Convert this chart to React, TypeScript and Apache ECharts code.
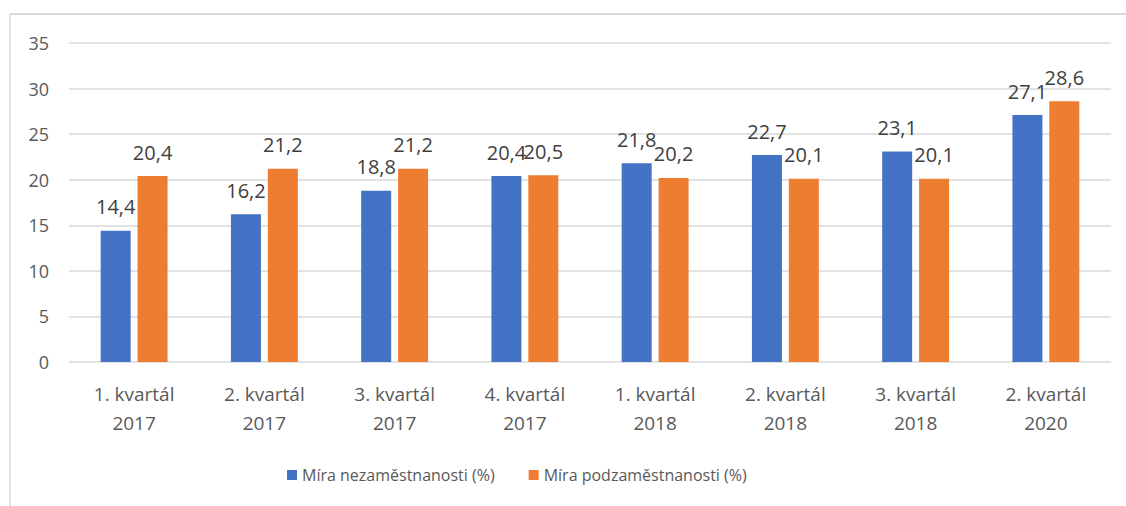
import React, { useEffect, useRef } from "react";
import * as echarts from "echarts";

const categories = [
  "1. kvartál\n2017",
  "2. kvartál\n2017",
  "3. kvartál\n2017",
  "4. kvartál\n2017",
  "1. kvartál\n2018",
  "2. kvartál\n2018",
  "3. kvartál\n2018",
  "2. kvartál\n2020",
];
const unemployment = [14.4, 16.2, 18.8, 20.4, 21.8, 22.7, 23.1, 27.1];
const underemployment = [20.4, 21.2, 21.2, 20.5, 20.2, 20.1, 20.1, 28.6];
const seriesNames = ["Míra nezaměstnanosti (%)", "Míra podzaměstnanosti (%)"];

const FONT = "'Open Sans', 'Noto Sans', sans-serif";
const fmt = (p: any) => Number(p.value).toFixed(1).replace(".", ",");

export default function App() {
  const ref = useRef<HTMLDivElement>(null);
  useEffect(() => {
    if (!ref.current) return;
    const chart = echarts.init(ref.current, null, { renderer: "svg" });
    const labelCfg = {
      show: true,
      position: "top",
      distance: 14,
      formatter: fmt,
      color: "#404040",
      fontSize: 20,
      fontFamily: FONT,
    };
    chart.setOption({
      animation: false,
      backgroundColor: "#ffffff",
      graphic: [
        {
          type: "line",
          shape: { x1: 10, y1: 14, x2: 1126, y2: 14 },
          style: { stroke: "#d9d9d9", lineWidth: 2 },
          silent: true,
        },
        {
          type: "line",
          shape: { x1: 10, y1: 14, x2: 10, y2: 520 },
          style: { stroke: "#d9d9d9", lineWidth: 1.5 },
          silent: true,
        },
      ],
      grid: { left: 69, right: 15, top: 43, bottom: 144, containLabel: false },
      legend: {
        left: 282,
        top: 462,
        itemWidth: 10,
        itemHeight: 10,
        itemGap: 34,
        itemStyle: { borderWidth: 0 },
        icon: "rect",
        textStyle: { color: "#595959", fontSize: 16, fontFamily: FONT },
        data: seriesNames,
      },
      xAxis: {
        type: "category",
        data: categories,
        axisLine: { show: false },
        axisTick: { show: false },
        axisLabel: {
          color: "#595959",
          fontSize: 19,
          fontFamily: FONT,
          lineHeight: 29,
          margin: 17,
          interval: 0,
        },
      },
      yAxis: {
        type: "value",
        min: 0,
        max: 35,
        interval: 5,
        axisLine: { show: false },
        axisTick: { show: false },
        axisLabel: { color: "#595959", fontSize: 18, fontFamily: FONT, margin: 20 },
        splitLine: { lineStyle: { color: "#d9d9d9", width: 1.5 } },
      },
      series: [
        {
          name: seriesNames[0],
          type: "bar",
          data: unemployment,
          barWidth: 30,
          barGap: "23%",
          itemStyle: { color: "#4472C4" },
          label: labelCfg,
        },
        {
          name: seriesNames[1],
          type: "bar",
          data: underemployment,
          barWidth: 30,
          itemStyle: { color: "#ED7D31" },
          label: labelCfg,
        },
      ],
    });
    return () => chart.dispose();
  }, []);
  return (
    <div
      ref={ref}
      style={{ position: "absolute", left: 0, top: 0, width: 1126, height: 506 }}
    />
  );
}
